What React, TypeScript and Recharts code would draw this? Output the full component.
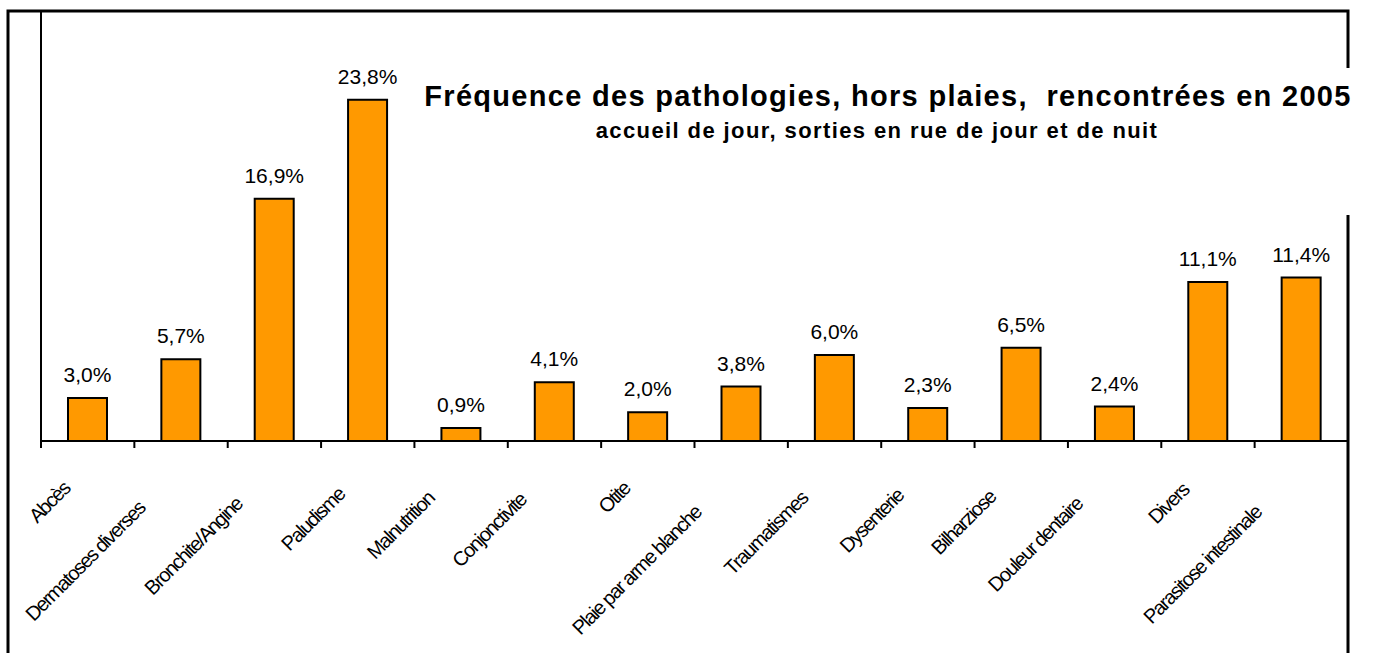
import { Bar, BarChart, LabelList, XAxis, YAxis } from "recharts";

const categories = [
  "Abcès",
  "Dermatoses diverses",
  "Bronchite/Angine",
  "Paludisme",
  "Malnutrition",
  "Conjonctivite",
  "Otite",
  "Plaie par arme blanche",
  "Traumatismes",
  "Dysenterie",
  "Bilharziose",
  "Douleur dentaire",
  "Divers",
  "Parasitose intestinale",
];
const values = [3.0, 5.7, 16.9, 23.8, 0.9, 4.1, 2.0, 3.8, 6.0, 2.3, 6.5, 2.4, 11.1, 11.4];
const yDomain = [0, 30];

const title = "Fréquence des pathologies, hors plaies,  rencontrées en 2005";
const subtitle = "accueil de jour, sorties en rue de jour et de nuit";

const W = 1375;
const H = 653;
const xAxisH = 212;
const yAxisW = 41;
const M = { top: 11, right: 27, left: 0, bottom: 0 };
const axisY = H - xAxisH;
const band = (W - yAxisW - M.right) / categories.length;
const font = "'Liberation Sans', Arial, sans-serif";

const rows = categories.map((name, i) => ({ name, value: values[i] }));

function CatTick(props: any) {
  const { x, payload, index } = props;
  const label = String(payload.value);
  const n = label.length;
  const ax = x - 10 - 1.3 * n;
  const ay = axisY + 42 + 1.4 * n;
  return (
    <g>
      <line x1={x - band / 2} x2={x - band / 2} y1={axisY} y2={axisY + 7} stroke="#000" strokeWidth={2} />
      {index === categories.length - 1 && (
        <line x1={x + band / 2} x2={x + band / 2} y1={axisY} y2={axisY + 7} stroke="#000" strokeWidth={2} />
      )}
      <text transform={`translate(${ax},${ay}) rotate(-45)`} textAnchor="end" fontSize={20} letterSpacing={-1.5} fill="#000" fontFamily={font}>
        {label}
      </text>
    </g>
  );
}

const pct = (v: unknown) => `${Number(v).toFixed(1).replace(".", ",")}%`;

export default function App() {
  return (
    <div style={{ position: "absolute", left: 0, top: 0, width: W, height: H, background: "#fff", fontFamily: font }}>
      <BarChart width={W} height={H} data={rows} margin={M} barSize={39}>
        <XAxis dataKey="name" interval={0} height={xAxisH} axisLine={{ stroke: "#000", strokeWidth: 2 }} tickLine={false} tick={<CatTick />} />
        <YAxis domain={yDomain} width={yAxisW} tick={false} tickLine={false} axisLine={{ stroke: "#000", strokeWidth: 2 }} />
        <Bar dataKey="value" fill="#FF9900" stroke="#000" strokeWidth={2} isAnimationActive={false}>
          <LabelList dataKey="value" position="top" offset={16} formatter={pct} style={{ fontSize: 21, fill: "#000", fontFamily: font }} />
        </Bar>
      </BarChart>
      <svg width={W} height={H} style={{ position: "absolute", left: 0, top: 0, pointerEvents: "none" }}>
        <polyline points={`8,${H} 8,11 1348,11 1348,${H}`} fill="none" stroke="#000" strokeWidth={3} />
        <rect x={405} y={68} width={965} height={147} fill="#fff" />
        <text x={888} y={106} textAnchor="middle" fontSize={29} letterSpacing={1.3} fontWeight="bold" fontFamily={font} fill="#000" style={{ whiteSpace: "pre" }}>
          {title}
        </text>
        <text x={877} y={138} textAnchor="middle" fontSize={22} letterSpacing={1.4} fontWeight="bold" fontFamily={font} fill="#000">
          {subtitle}
        </text>
      </svg>
    </div>
  );
}
